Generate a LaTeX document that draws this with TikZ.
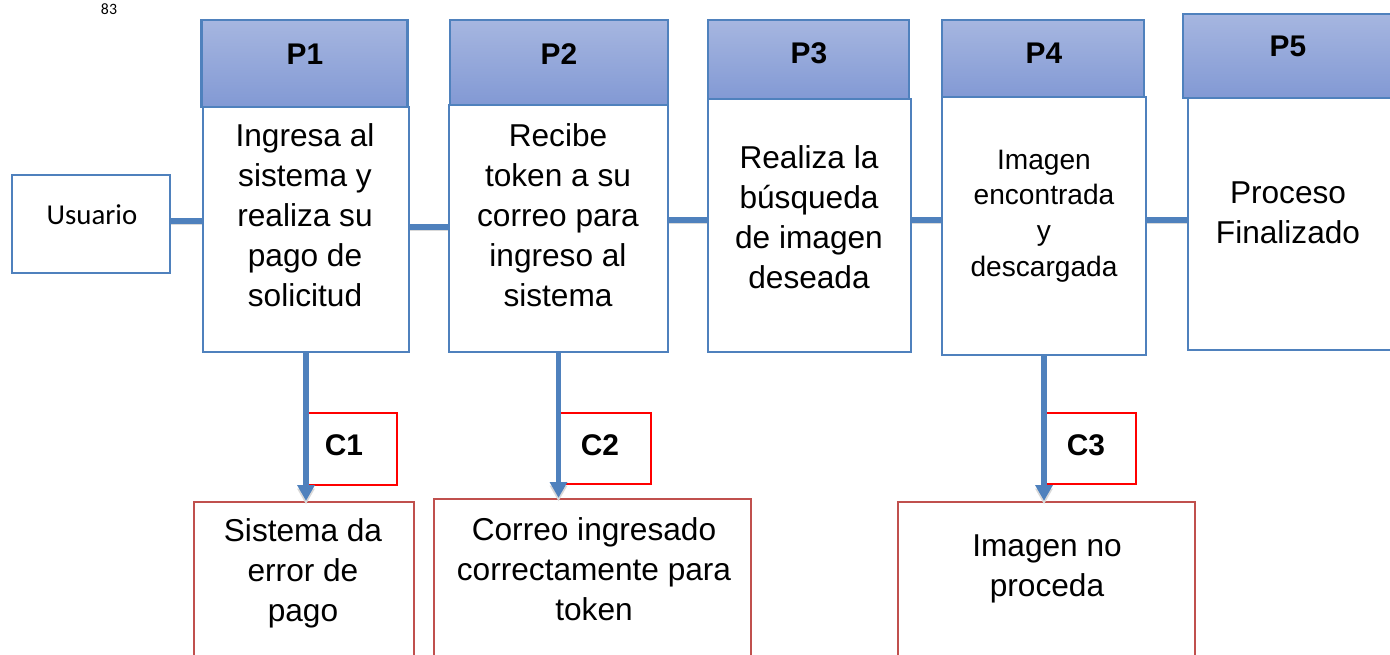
\documentclass[tikz,border=0pt]{standalone}
\usepackage{fontspec}
\setmainfont{Liberation Sans}
\newfontfamily\calibri{Carlito}
\usetikzlibrary{positioning,arrows.meta}

\definecolor{ofblue}{RGB}{79,129,189}
\definecolor{hdrtop}{RGB}{166,182,224}
\definecolor{hdrbot}{RGB}{130,153,212}
\definecolor{ofred}{RGB}{192,80,77}

\tikzset{
  box/.style={draw=ofblue, line width=1.3pt, fill=white},
  hdr/.style={draw=ofblue, line width=1.3pt, top color=hdrtop, bottom color=hdrbot},
  cbox/.style={draw=red, line width=1.1pt},
  ebox/.style={draw=ofred, line width=1.3pt},
  ptxt/.style={font=\fontsize{18}{22.7}\selectfont, align=center},
  small/.style={font=\fontsize{16}{20.4}\selectfont, align=center},
  lbl/.style={font=\fontsize{17}{20}\selectfont\bfseries},
  link/.style={draw=ofblue, line width=3.2pt,
    preaction={draw=black!15, transform canvas={yshift=-2pt}}},
  flow/.style={link, -{Triangle[width=9.5pt,length=9pt]}}
}

\begin{document}
\begin{tikzpicture}[x=0.02cm, y=-0.02cm]
\useasboundingbox (0,0) rectangle (1390,654);
%page number
\node[font=\calibri\fontsize{9}{10}\selectfont] (pg) at (109,9) {83};
%user
\node[box, minimum width=3.16cm, minimum height=1.96cm] (u) at (91,224) {};
\node[font=\calibri\fontsize{16.4}{19}\selectfont] (ut) at (92,215) {Usuario};
%process columns
\node[hdr, minimum width=4.12cm, minimum height=1.74cm] (h1) at (304.5,63.5) {};
\node[box, minimum width=4.12cm, minimum height=4.9cm] (b1) at (306,229.5) {};
\node[hdr, minimum width=4.36cm, minimum height=1.7cm] (h2) at (559,62.5) {};
\node[box, minimum width=4.38cm, minimum height=4.94cm] (b2) at (558.5,228.5) {};
\node[hdr, minimum width=4.02cm, minimum height=1.6cm] (h3) at (808.5,60) {};
\node[box, minimum width=4.06cm, minimum height=5.06cm] (b3) at (809.5,225.5) {};
\node[hdr, minimum width=4.04cm, minimum height=1.56cm] (h4) at (1043,59) {};
\node[box, minimum width=4.08cm, minimum height=5.16cm] (b4) at (1044,226) {};
\node[hdr, minimum width=4.26cm, minimum height=1.68cm] (h5) at (1289.5,56) {};
\node[box, minimum width=4.16cm, minimum height=5.04cm] (b5) at (1292,224) {};
%
\node[lbl] (p1) at (305,54) {P1};
\node[lbl] (p2) at (559,54) {P2};
\node[lbl] (p3) at (809,53) {P3};
\node[lbl] (p4) at (1044,53) {P4};
\node[lbl] (p5) at (1288,46) {P5};
%
\node[ptxt] (t1) at (305,215) {Ingresa al\\sistema y\\realiza su\\pago de\\solicitud};
\node[ptxt] (t2) at (558,215) {Recibe\\token a su\\correo para\\ingreso al\\sistema};
\node[ptxt] (t3) at (809,217) {Realiza la\\búsqueda\\de imagen\\deseada};
\node[small] (t4) at (1044,216) {Imagen\\encontrada\\y\\descargada};
\node[ptxt] (t5) at (1288,213) {Proceso\\Finalizado};
%outcomes
\node[ebox, minimum width=4.4cm, minimum height=3.26cm] (e1) at (304,583.5) {};
\node[ebox, minimum width=6.34cm, minimum height=3.32cm] (e2) at (592.5,582) {};
\node[ebox, minimum width=5.94cm, minimum height=3.26cm] (e3) at (1046.5,583.5) {};
\node[ptxt] (s1) at (303,573) {Sistema da\\error de\\pago};
\node[ptxt] (s2) at (594,569) {Correo ingresado\\correctamente para\\token};
\node[ptxt] (s3) at (1047,569) {Imagen no\\proceda};
%conditions
\node[cbox, minimum width=1.8cm, minimum height=1.44cm] (c1) at (352,449) {};
\node[cbox, minimum width=1.82cm, minimum height=1.42cm] (c2) at (605.5,448.5) {};
\node[cbox, minimum width=1.82cm, minimum height=1.42cm] (c3) at (1090.5,448.5) {};
\node[lbl] (l1) at (344,445) {C1};
\node[lbl] (l2) at (600,445) {C2};
\node[lbl] (l3) at (1086,445) {C3};
%connectors
\draw[link] (u.east |- 0,221) -- (b1.west |- 0,221);
\draw[link] (b1.east |- 0,227) -- (b2.west |- 0,227);
\draw[link] (b2.east |- 0,220) -- (b3.west |- 0,220);
\draw[link] (b3.east |- 0,220) -- (b4.west |- 0,220);
\draw[link] (b4.east |- 0,220) -- (b5.west |- 0,220);
\draw[flow] (b1.south) -- (b1.south |- e1.north);
\draw[flow] (b2.south) -- (b2.south |- e2.north);
\draw[flow] (b4.south) -- (b4.south |- e3.north);
\end{tikzpicture}
\end{document}
